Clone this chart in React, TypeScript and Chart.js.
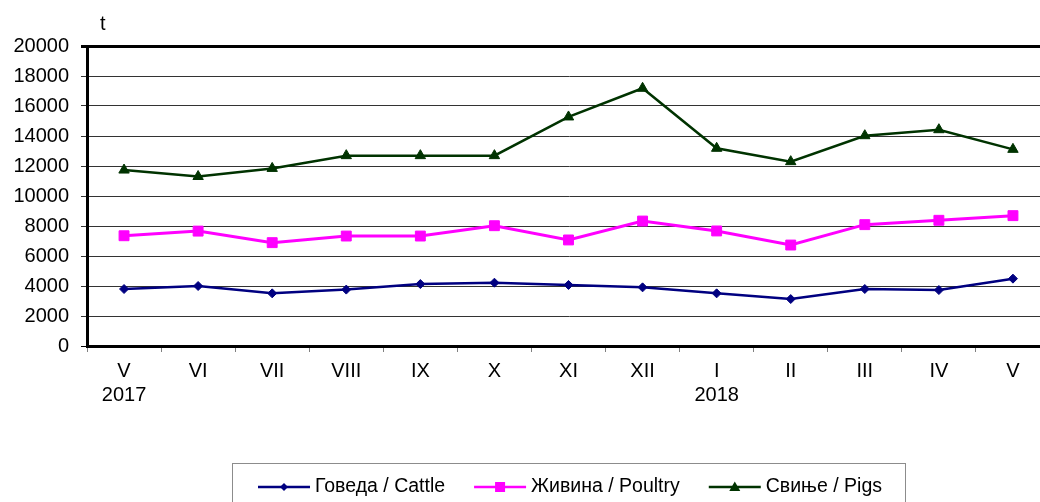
import React, { useEffect, useRef } from "react";
import { Chart, registerables } from "chart.js";

Chart.register(...registerables);

const categories: (string | string[])[] = [
  ["V", "2017"], "VI", "VII", "VIII", "IX", "X", "XI", "XII", ["I", "2018"], "II", "III", "IV", "V",
];
const cattle = [3800, 4000, 3510, 3760, 4130, 4220, 4070, 3910, 3510, 3130, 3800, 3730, 4490];
const poultry = [7350, 7660, 6890, 7330, 7330, 8020, 7070, 8330, 7670, 6730, 8090, 8380, 8690];
const pigs = [11730, 11300, 11840, 12690, 12690, 12690, 15270, 17180, 13180, 12290, 14020, 14420, 13110];
const seriesNames = ["Говеда / Cattle", "Живина / Poultry", "Свиње / Pigs"];
const seriesColors = ["#000080", "#FF00FF", "#003300"];
const yTicks = { min: 0, max: 20000, step: 2000 };
const unitLabel = "t";

const FONT = "'Liberation Sans', Arial, sans-serif";

const legendPlugin = {
  id: "customLegend",
  afterDraw(chart: any) {
    const ctx = chart.ctx;
    ctx.save();
    // unit label
    ctx.fillStyle = "#000";
    ctx.font = `20px ${FONT}`;
    ctx.textAlign = "left";
    ctx.textBaseline = "middle";
    ctx.fillText(unitLabel, chart.chartArea.left + 13, chart.chartArea.top - 22);

    // legend box
    const boxX = 224.5, boxY = 455.5, boxW = 673, boxH = 60;
    ctx.strokeStyle = "#8c8c8c";
    ctx.lineWidth = 1;
    ctx.strokeRect(boxX, boxY, boxW, boxH);

    const cy = 479;
    let x = 250;
    ctx.font = `19.5px ${FONT}`;
    chart.data.datasets.forEach((ds: any, i: number) => {
      const color = seriesColors[i];
      ctx.strokeStyle = color;
      ctx.lineWidth = 2.5;
      ctx.beginPath();
      ctx.moveTo(x, cy);
      ctx.lineTo(x + 52, cy);
      ctx.stroke();
      ctx.fillStyle = color;
      const mx = x + 26;
      ctx.beginPath();
      if (ds.pointStyle === "rectRot") {
        const r = 4;
        ctx.moveTo(mx - r, cy);
        ctx.lineTo(mx, cy - r);
        ctx.lineTo(mx + r, cy);
        ctx.lineTo(mx, cy + r);
        ctx.closePath();
      } else if (ds.pointStyle === "rect") {
        ctx.rect(mx - 5, cy - 5, 10, 10);
      } else {
        ctx.moveTo(mx, cy - 5.5);
        ctx.lineTo(mx + 5.5, cy + 4);
        ctx.lineTo(mx - 5.5, cy + 4);
        ctx.closePath();
      }
      ctx.fill();
      ctx.fillStyle = "#000";
      ctx.textAlign = "left";
      ctx.textBaseline = "middle";
      ctx.fillText(ds.label, x + 57, cy);
      x += 57 + ctx.measureText(ds.label).width + 29;
    });
    ctx.restore();
  },
};

export default function App() {
  const ref = useRef<HTMLCanvasElement | null>(null);

  useEffect(() => {
    document.documentElement.style.overflow = "hidden";
    document.body.style.overflow = "hidden";
    if (!ref.current) return;
    const mk = (i: number, data: number[], style: string, radius: number, width: number) => ({
      label: seriesNames[i],
      data,
      borderColor: seriesColors[i],
      backgroundColor: seriesColors[i],
      pointBackgroundColor: seriesColors[i],
      pointBorderColor: seriesColors[i],
      pointBorderWidth: 1,
      pointStyle: style,
      pointRadius: radius,
      borderWidth: width,
      tension: 0,
    });
    const chart = new Chart(ref.current, {
      type: "line",
      data: {
        labels: categories,
        datasets: [
          mk(0, cattle, "rectRot", 4.5, 2.5),
          mk(1, poultry, "rect", 7, 3),
          mk(2, pigs, "triangle", 6, 2.5),
        ] as any,
      },
      options: {
        responsive: false,
        animation: false,
        devicePixelRatio: 1,
        layout: { padding: { top: 38, right: 10, bottom: 100, left: 0 } },
        plugins: {
          legend: { display: false },
          title: { display: false },
          tooltip: { enabled: false },
        },
        scales: {
          x: {
            type: "category",
            offset: true,
            afterFit: (s: any) => { s.height = 82; },
            grid: {
              offset: true,
              drawOnChartArea: false,
              drawTicks: true,
              tickLength: 6,
              color: "#808080",
              lineWidth: 1,
            },
            border: { display: true, color: "#000", width: 3 },
            ticks: {
              color: "#000",
              font: { family: FONT, size: 20, lineHeight: 1.18 },
              padding: 8,
              maxRotation: 0,
              autoSkip: false,
            },
          },
          y: {
            min: yTicks.min,
            max: yTicks.max,
            afterFit: (s: any) => { s.width = 79; },
            grid: {
              color: (c: any) => (c.tick && (c.tick.value === yTicks.max || c.tick.value === 0) ? "#000" : "#333"),
              lineWidth: (c: any) => (c.tick && c.tick.value === yTicks.max ? 3 : 1),
              tickLength: 6,
              drawTicks: true,
            },
            border: { display: true, color: "#000", width: 3 },
            ticks: {
              stepSize: yTicks.step,
              color: "#000",
              font: { family: FONT, size: 20 },
              padding: 12,
              callback: (v: any) => String(v),
            },
          },
        },
      } as any,
      plugins: [legendPlugin],
    });
    return () => chart.destroy();
  }, []);

  return (
    <div style={{ position: "fixed", left: 0, top: 0, width: 1040, height: 502, overflow: "hidden", background: "#fff" }}>
      <canvas ref={ref} width={1052} height={520} style={{ display: "block", marginLeft: 8, marginTop: 8 }} />
    </div>
  );
}
